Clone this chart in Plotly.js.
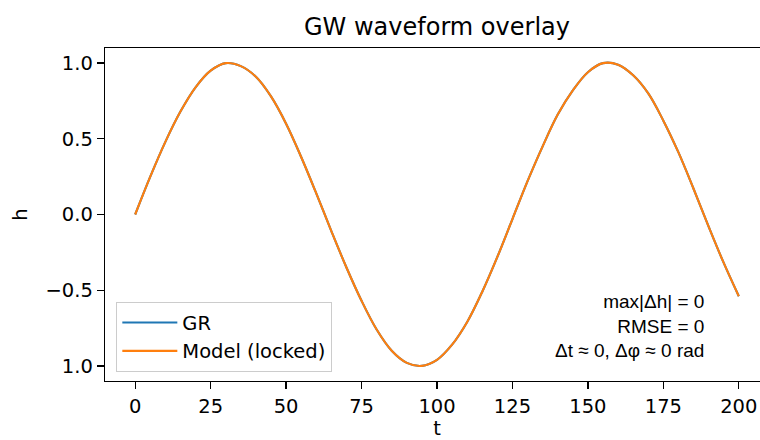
<!DOCTYPE html>
<html>
<head>
<meta charset="utf-8">
<script src="https://cdn.plot.ly/plotly-3.0.1.min.js"></script>
<style>
html, body { margin: 0; padding: 0; overflow: hidden; background: #fff; }
#chart { width: 769px; height: 440px; }
</style>
</head>
<body>
<div id="chart"></div>
<script>
// Time samples (t) and strain values
const t = [0, 5, 10, 15, 20, 25, 30, 35, 40, 45, 50, 55, 60, 65, 70, 75, 80, 85, 90, 95,
  100, 105, 110, 115, 120, 125, 130, 135, 140, 145, 150, 155, 160, 165, 170, 175, 180, 185, 190, 195, 200];
const hGR = [0.00, 0.25, 0.48, 0.68, 0.84, 0.95, 1.00, 0.98, 0.91, 0.78, 0.60, 0.38, 0.14, -0.11, -0.35, -0.57, -0.76, -0.90, -0.98, -1.00,
  -0.96, -0.86, -0.71, -0.51, -0.28, -0.03, 0.22, 0.45, 0.66, 0.82, 0.94, 1.00, 0.99, 0.92, 0.80, 0.62, 0.41, 0.17, -0.08, -0.32, -0.54];
const hModel = [0.00, 0.25, 0.48, 0.68, 0.84, 0.95, 1.00, 0.98, 0.91, 0.78, 0.60, 0.38, 0.14, -0.11, -0.35, -0.57, -0.76, -0.90, -0.98, -1.00,
  -0.96, -0.86, -0.71, -0.51, -0.28, -0.03, 0.22, 0.45, 0.66, 0.82, 0.94, 1.00, 0.99, 0.92, 0.80, 0.62, 0.41, 0.17, -0.08, -0.32, -0.54];
const seriesNames = ["GR", "Model (locked)"];
const xTickVals = [0, 25, 50, 75, 100, 125, 150, 175, 200];
const yTickVals = [-1.0, -0.5, 0.0, 0.5, 1.0];
const yTickText = ["1.0", "\u22120.5", "0.0", "0.5", "1.0"];
const statsLines = ["max|\u0394h| = 0", "RMSE = 0", "\u0394t \u2248 0, \u0394\u03c6 \u2248 0 rad"];

const dv = "DejaVu Sans, sans-serif";
const traces = [
  { x: t, y: hGR, name: seriesNames[0], mode: "lines", line: { color: "#1f77b4", width: 2.1, shape: "spline" } },
  { x: t, y: hModel, name: seriesNames[1], mode: "lines", line: { color: "#ff7f0e", width: 2.1, shape: "spline" } }
];

const axisCommon = {
  showgrid: false, zeroline: false, showline: true, linecolor: "#000", linewidth: 1.3, mirror: true,
  ticks: "outside", ticklen: 7, tickwidth: 1.3, tickcolor: "#000",
  tickfont: { family: dv, size: 19.5, color: "#000" }
};

const layout = {
  width: 769, height: 440,
  margin: { l: 105, r: 0, t: 48, b: 59 },
  paper_bgcolor: "#fff", plot_bgcolor: "#fff",
  title: { text: "GW waveform overlay", font: { family: dv, size: 24, color: "#000" }, xref: "paper", x: 0.5, xanchor: "center", y: 0.94, yanchor: "middle" },
  xaxis: Object.assign({}, axisCommon, {
    range: [-10, 210], tickvals: xTickVals, ticktext: xTickVals.map(String),
    title: { text: "t", font: { family: dv, size: 19.5, color: "#000" }, standoff: 8 }
  }),
  yaxis: Object.assign({}, axisCommon, {
    range: [-1.1, 1.1], tickvals: yTickVals, ticktext: yTickText,
    title: { text: "h", font: { family: dv, size: 19.5, color: "#000" }, standoff: 12 }
  }),
  showlegend: true,
  legend: {
    x: 0.0166, y: 0.027, xanchor: "left", yanchor: "bottom",
    bgcolor: "rgba(255,255,255,0.8)", bordercolor: "#cccccc", borderwidth: 1.3,
    font: { family: dv, size: 19.5, color: "#000" }, itemwidth: 55
  },
  annotations: [{
    xref: "paper", yref: "paper", x: 0.905, y: 0.165, xanchor: "right", yanchor: "middle",
    align: "right", showarrow: false,
    text: statsLines.join("<br>"),
    font: { family: "Liberation Sans, Arial, sans-serif", size: 19, color: "#000" }
  }]
};

Plotly.newPlot("chart", traces, layout, { displayModeBar: false, staticPlot: true });
</script>
</body>
</html>
